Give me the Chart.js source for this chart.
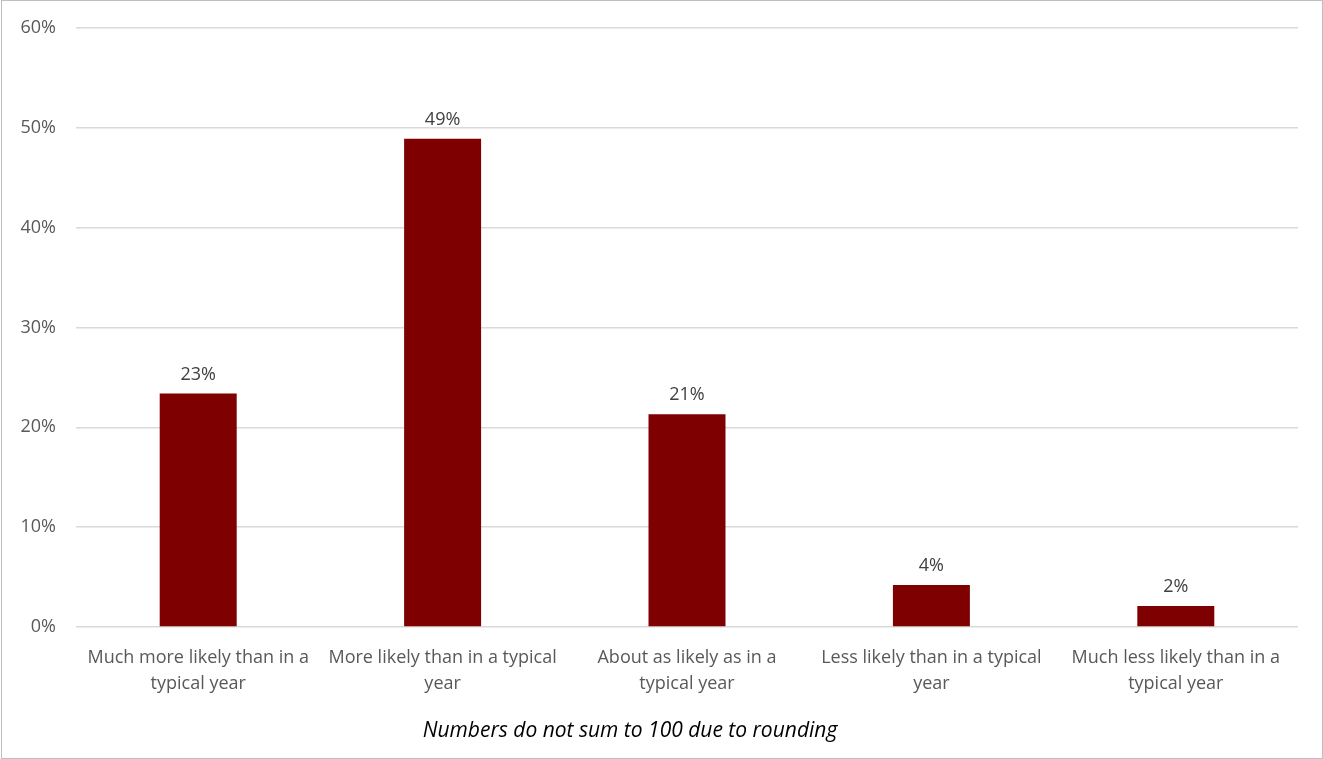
<!DOCTYPE html>
<html>
<head>
<meta charset="utf-8">
<script src="https://cdn.jsdelivr.net/npm/chart.js@4/dist/chart.umd.min.js"></script>
<style>
  html, body { margin: 0; padding: 0; background: #fff; }
  #wrap { position: absolute; left: 1px; top: 0; width: 1320px; height: 757px; border: 1px solid #bfbfbf; }
</style>
</head>
<body>
<div id="wrap"><canvas id="chart" width="1320" height="757"></canvas></div>
<script>
const categories = [
    ['Much more likely than in a', 'typical year'],
    ['More likely than in a typical', 'year'],
    ['About as likely as in a', 'typical year'],
    ['Less likely than in a typical', 'year'],
    ['Much less likely than in a', 'typical year']
];
const shares = [23.4, 48.9, 21.3, 4.2, 2.1];
const yTicks = [0, 10, 20, 30, 40, 50, 60];
const footnote = 'Numbers do not sum to 100 due to rounding';

const FONT = '"Open Sans", sans-serif';

// value labels over each bar + footnote under the axis
const labelsPlugin = {
    id: 'barLabels',
    afterDatasetsDraw(chart) {
        const ctx = chart.ctx;
        const meta = chart.getDatasetMeta(0);
        ctx.save();
        ctx.fillStyle = '#404040';
        ctx.font = '18px ' + FONT;
        ctx.textAlign = 'center';
        ctx.textBaseline = 'bottom';
        meta.data.forEach((bar, i) => {
            ctx.fillText(Math.round(shares[i]) + '%', bar.x, bar.y - 10);
        });
        ctx.font = 'italic 21px ' + FONT;
        ctx.fillStyle = '#000';
        ctx.textBaseline = 'middle';
        ctx.fillText(footnote, 628, 730);
        ctx.restore();
    }
};

new Chart(document.getElementById('chart'), {
    type: 'bar',
    data: {
        labels: categories,
        datasets: [{
            data: shares,
            backgroundColor: '#7f0000',
            barPercentage: 0.63,
            categoryPercentage: 0.5
        }]
    },
    options: {
        responsive: false,
        animation: false,
        layout: { padding: { top: 27, right: 24, bottom: 60, left: 0 } },
        plugins: { legend: { display: false }, tooltip: { enabled: false } },
        scales: {
            x: {
                grid: { display: false },
                border: { display: false },
                ticks: {
                    color: '#595959',
                    font: { family: FONT, size: 18, lineHeight: 1.45 },
                    padding: 10,
                    maxRotation: 0,
                    autoSkip: false
                },
                afterFit(scale) {
                    scale.height = 71;
                    scale.paddingLeft = 0;
                    scale.paddingRight = 0;
                }
            },
            y: {
                min: 0,
                max: 60,
                afterBuildTicks(scale) { scale.ticks = yTicks.map(v => ({ value: v })); },
                grid: { color: '#d9d9d9', lineWidth: 1.5, drawTicks: false },
                border: { display: false },
                ticks: {
                    color: '#595959',
                    font: { family: FONT, size: 18 },
                    padding: 20,
                    callback: v => v + '%'
                },
                afterFit(scale) {
                    scale.width = 74;
                    scale.paddingTop = 0;
                    scale.paddingBottom = 0;
                }
            }
        }
    },
    plugins: [labelsPlugin]
});
</script>
</body>
</html>
